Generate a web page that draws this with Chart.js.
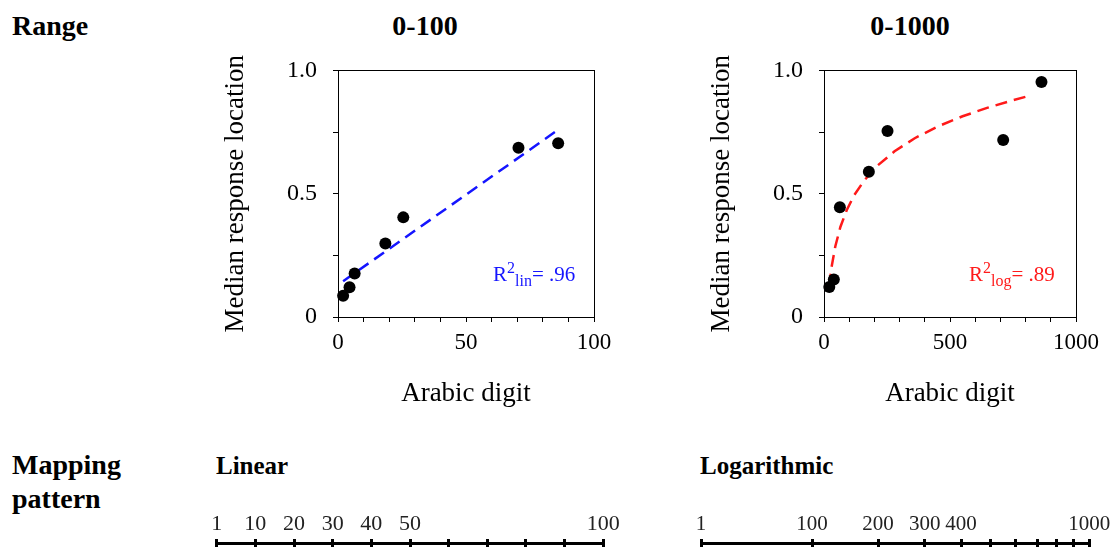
<!DOCTYPE html>
<html lang="en">
<head>
    <meta charset="UTF-8">
    <title>Range and mapping pattern</title>
    <style>
        body {
            margin: 0;
            width: 1116px;
            height: 547px;
            overflow: hidden;
            background: #fff;
            font-family: "Liberation Serif", "Times New Roman", serif;
            color: #000;
            position: relative;
        }
        .txt {
            position: absolute;
            white-space: nowrap;
        }
        .head {
            font-size: 28px;
            line-height: 28px;
            font-weight: bold;
        }
        .sub {
            font-size: 25px;
            line-height: 25px;
            font-weight: bold;
        }
        .r2 {
            font-size: 21px;
            line-height: 21px;
        }
        .r2 sup, .r2 sub {
            font-size: 16px;
            line-height: 0;
        }
        canvas {
            position: absolute;
        }
    </style>
    <script src="https://cdn.jsdelivr.net/npm/chart.js"></script>
</head>
<body>
    <div class="txt head" style="left:12px; top:12px;">Range</div>
    <div class="txt head" style="left:325px; width:200px; text-align:center; top:12px;">0-100</div>
    <div class="txt head" style="left:810px; width:200px; text-align:center; top:12px;">0-1000</div>

    <div class="txt head" style="left:12px; top:451px;">Mapping</div>
    <div class="txt head" style="left:12px; top:485px;">pattern</div>
    <div class="txt sub" style="left:216px; top:453px;">Linear</div>
    <div class="txt sub" style="left:700px; top:453px;">Logarithmic</div>

    <canvas id="chart100" width="420" height="380" style="left:200px; top:40px;"></canvas>
    <canvas id="chart1000" width="420" height="380" style="left:686px; top:40px;"></canvas>
    <canvas id="lineLin" width="440" height="47" style="left:190px; top:500px;"></canvas>
    <canvas id="lineLog" width="440" height="47" style="left:676px; top:500px;"></canvas>

    <div class="txt r2" style="left:493px; top:264px; color:#1515ff;">R<sup>2</sup><sub>lin</sub>= .96</div>
    <div class="txt r2" style="left:969px; top:264px; color:#ff1a1a;">R<sup>2</sup><sub>log</sub>= .89</div>

    <script>
        // 0-100 range: median response location per digit
        const digits100 = [2, 4.5, 6.5, 18.5, 25.5, 70.5, 86];
        const resp100 = [0.086, 0.121, 0.176, 0.298, 0.404, 0.686, 0.705];
        const fit100X = [2, 85];
        const fit100Y = [0.145, 0.752];

        // 0-1000 range
        const digits1000 = [21, 39, 63, 178, 252, 711, 863];
        const resp1000 = [0.122, 0.152, 0.445, 0.589, 0.754, 0.718, 0.953];
        const fit1000X = [21, 30, 45, 65, 90, 120, 160, 210, 280, 360, 450, 550, 650, 750, 822];
        const fit1000Y = [0.127, 0.202, 0.287, 0.365, 0.433, 0.494, 0.554, 0.612, 0.672, 0.725, 0.772, 0.814, 0.849, 0.879, 0.899];

        // tick labels
        const yTickLabels = ['0', '', '0.5', '', '1.0'];
        const x100Labels = ['0', '', '', '', '', '50', '', '', '', '', '100'];
        const x1000Labels = ['0', '', '', '', '', '500', '', '', '', '', '1000'];

        // mapping pattern number lines
        const linLineValues = [0, 10, 20, 30, 40, 50, 60, 70, 80, 90, 100];
        const linLineLabels = ['1', '10', '20', '30', '40', '50', '', '', '', '', '100'];
        const logLineValues = [1, 100, 200, 300, 400, 500, 600, 700, 800, 900, 1000];
        const logLineLabels = ['1', '100', '200', '300', '400', '', '', '', '', '', '1000'];

        Chart.defaults.font.family = '"Liberation Serif", "Times New Roman", serif';
        Chart.defaults.color = '#000';

        const framePlugin = {
            id: 'frame',
            beforeDatasetsDraw(chart) {
                const a = chart.chartArea;
                const c = chart.ctx;
                c.save();
                c.strokeStyle = '#000';
                c.lineWidth = 1;
                c.strokeRect(Math.round(a.left) + 0.5, Math.round(a.top) + 0.5,
                    Math.round(a.right - a.left), Math.round(a.bottom - a.top));
                c.restore();
            }
        };

        function toPoints(xs, ys) {
            return xs.map((x, i) => ({ x: x, y: ys[i] }));
        }

        function makeScatter(id, xs, ys, fx, fy, xMax, xStep, xLabels, lineColor, padRight) {
            return new Chart(document.getElementById(id), {
                type: 'scatter',
                data: {
                    datasets: [{
                        data: toPoints(xs, ys),
                        backgroundColor: '#000',
                        borderWidth: 0,
                        pointRadius: 6,
                        clip: false
                    }, {
                        data: toPoints(fx, fy),
                        showLine: true,
                        pointRadius: 0,
                        borderColor: lineColor,
                        borderWidth: 2.5,
                        borderDash: [12, 7],
                        tension: 0,
                        fill: false
                    }]
                },
                options: {
                    responsive: false,
                    animation: false,
                    events: [],
                    layout: { padding: { left: 20, right: padRight, top: 30, bottom: 10 } },
                    plugins: { legend: { display: false }, tooltip: { enabled: false } },
                    scales: {
                        x: {
                            type: 'linear',
                            min: 0,
                            max: xMax,
                            afterFit: s => { s.height = 93; },
                            grid: { drawOnChartArea: false, tickLength: 5, tickColor: '#000', tickWidth: 1 },
                            border: { color: '#000', width: 1 },
                            ticks: {
                                stepSize: xStep,
                                autoSkip: false,
                                maxRotation: 0,
                                padding: 7,
                                font: { size: 23 },
                                callback: (v, i) => xLabels[i]
                            },
                            title: {
                                display: true,
                                text: 'Arabic digit',
                                font: { size: 27 },
                                padding: 0
                            }
                        },
                        y: {
                            min: 0,
                            max: 1,
                            afterFit: s => { s.width = 118; },
                            grid: { drawOnChartArea: false, tickLength: 5, tickColor: '#000', tickWidth: 1 },
                            border: { color: '#000', width: 1 },
                            ticks: {
                                stepSize: 0.25,
                                autoSkip: false,
                                padding: 16,
                                font: { size: 24 },
                                callback: (v, i) => yTickLabels[i]
                            },
                            title: {
                                display: true,
                                text: 'Median response location',
                                font: { size: 27 },
                                padding: 0
                            }
                        }
                    }
                },
                plugins: [framePlugin]
            });
        }

        makeScatter('chart100', digits100, resp100, fit100X, fit100Y, 100, 10, x100Labels, '#1515ff', 26);
        makeScatter('chart1000', digits1000, resp1000, fit1000X, fit1000Y, 1000, 100, x1000Labels, '#ff1a1a', 28);

        // number line drawn as a top axis; the tiny chart area lets grid lines cross below the bar
        function makeNumberLine(id, values, labels, toAxis, padL, padR, fontSize) {
            return new Chart(document.getElementById(id), {
                type: 'scatter',
                data: { datasets: [] },
                options: {
                    responsive: false,
                    animation: false,
                    events: [],
                    layout: { padding: { left: padL, right: padR, top: 0, bottom: 0 } },
                    plugins: { legend: { display: false }, tooltip: { enabled: false } },
                    scales: {
                        x: {
                            type: 'linear',
                            position: 'top',
                            min: toAxis(values[0]),
                            max: toAxis(values[values.length - 1]),
                            afterFit: s => { s.height = 43; },
                            afterBuildTicks: s => {
                                s.ticks = values.map(v => ({ value: toAxis(v) }));
                            },
                            grid: {
                                drawOnChartArea: true,
                                color: '#000',
                                lineWidth: 3,
                                tickLength: 4,
                                tickWidth: 3,
                                tickColor: '#000'
                            },
                            border: { color: '#000', width: 3 },
                            ticks: {
                                autoSkip: false,
                                maxRotation: 0,
                                padding: 1.5,
                                font: { size: fontSize },
                                color: '#222',
                                callback: (v, i) => labels[i]
                            }
                        },
                        y: { display: false, min: 0, max: 1 }
                    }
                }
            });
        }

        makeNumberLine('lineLin', linLineValues, linLineLabels, v => v, 26.7, 26.7, 22);
        makeNumberLine('lineLog', logLineValues, logLineLabels, v => Math.log10(v + 100), 25, 26.7, 21);
    </script>
</body>
</html>
